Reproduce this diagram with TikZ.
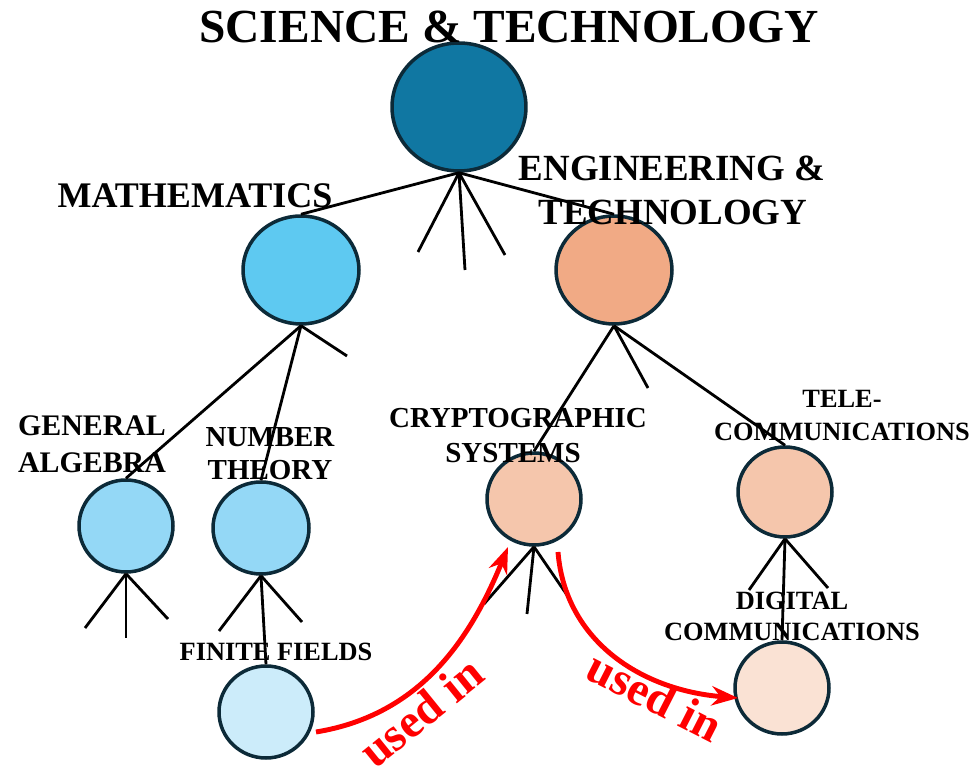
\documentclass[tikz,border=0pt]{standalone}
\usepackage{fontspec}
\setmainfont{Liberation Serif}
\usetikzlibrary{shapes.geometric,arrows.meta}
\definecolor{bord}{RGB}{12,42,56}
\definecolor{cRoot}{RGB}{16,119,162}
\definecolor{cMath}{RGB}{94,201,241}
\definecolor{cEng}{RGB}{241,170,133}
\definecolor{cMath2}{RGB}{148,216,246}
\definecolor{cEng2}{RGB}{245,198,172}
\definecolor{cMath3}{RGB}{204,236,250}
\definecolor{cEng3}{RGB}{250,226,212}
\definecolor{redarr}{RGB}{255,0,0}
\tikzset{
  bub/.style n args={3}{ellipse, draw=bord, line width=2pt, fill=#1, minimum width=#2, minimum height=#3, inner sep=0pt},
  link/.style={line width=1.6pt, black},
  usedarrow/.style={line width=2.8pt, redarr, -{Stealth[length=15pt,width=11pt]}},
  usedlabel/.style={text=redarr, font=\fontsize{27}{27}\selectfont\bfseries, inner sep=0pt},
  lbl/.style={font=\fontsize{#1}{#1}\selectfont\bfseries, inner sep=0pt, align=center},
}
\begin{document}
\begin{tikzpicture}[x=0.02cm,y=-0.02cm]
\useasboundingbox (0,0) rectangle (974,766);
% nodes
\node[bub={cRoot}{2.68cm}{2.56cm}] (root) at (459,107) {};
\node[bub={cMath}{2.32cm}{2.16cm}] (math) at (301,270) {};
\node[bub={cEng}{2.32cm}{2.16cm}] (eng) at (614,270) {};
\node[bub={cMath2}{1.88cm}{1.84cm}] (ga) at (126,526) {};
\node[bub={cMath2}{1.92cm}{1.84cm}] (nt) at (261,528) {};
\node[bub={cEng2}{1.88cm}{1.84cm}] (cs) at (534,499) {};
\node[bub={cEng2}{1.88cm}{1.80cm}] (tc) at (785,492) {};
\node[bub={cMath3}{1.88cm}{1.84cm}] (ff) at (266,712) {};
\node[bub={cEng3}{1.88cm}{1.84cm}] (dc) at (782,688) {};
% stub ends
\coordinate (r1) at (418,252);
\coordinate (r2) at (465,270);
\coordinate (r3) at (505,255);
\coordinate (m1) at (347,356);
\coordinate (e1) at (648,388);
\coordinate (g1) at (85,628);
\coordinate (g2) at (126,638);
\coordinate (g3) at (168,619);
\coordinate (n1) at (219,631);
\coordinate (n2) at (302,622);
\coordinate (c1) at (484,604);
\coordinate (c2) at (527,614);
\coordinate (c3) at (567,595);
\coordinate (t1) at (749,590);
\coordinate (t2) at (828,588);
% links
\draw[link] (root.south) -- (math.north);
\draw[link] (root.south) -- (eng.north);
\draw[link] (root.south) -- (r1);
\draw[link] (root.south) -- (r2);
\draw[link] (root.south) -- (r3);
\draw[link] (math.south) -- (ga.north);
\draw[link] (math.south) -- (nt.north);
\draw[link] (math.south) -- (m1);
\draw[link] (eng.south) -- (cs.north);
\draw[link] (eng.south) -- (tc.north);
\draw[link] (eng.south) -- (e1);
\draw[link] (ga.south) -- (g1);
\draw[link] (ga.south) -- (g2);
\draw[link] (ga.south) -- (g3);
\draw[link] (nt.south) -- (n1);
\draw[link] (nt.south) -- (n2);
\draw[link] (nt.south) -- (ff.north);
\draw[link] (cs.south) -- (c1);
\draw[link] (cs.south) -- (c2);
\draw[link] (cs.south) -- (c3);
\draw[link] (tc.south) -- (t1);
\draw[link] (tc.south) -- (t2);
\draw[link] (tc.south) -- (dc.north);
% labels
\node[lbl=27] (tRoot) at (509,27) {SCIENCE \& TECHNOLOGY};
\node[lbl=20.5] (tMath) at (195,196) {MATHEMATICS};
\node[lbl=21] (tEng1) at (672,168) {ENGINEERING \&};
\node[lbl=21] (tEng2) at (673,212) {TECHNOLOGY};
\node[lbl=17] (tGA1) at (92,426) {GENERAL};
\node[lbl=17] (tGA2) at (92,463) {ALGEBRA};
\node[lbl=16.5] (tNT1) at (270,437) {NUMBER};
\node[lbl=16.5] (tNT2) at (270,470) {THEORY};
\node[lbl=16.5] (tCS1) at (518,418) {CRYPTOGRAPHIC};
\node[lbl=16.5] (tCS2) at (513,453) {SYSTEMS};
\node[lbl=15] (tTC1) at (842,399) {TELE-};
\node[lbl=15] (tTC2) at (842,432) {COMMUNICATIONS};
\node[lbl=15] (tFF) at (276,652) {FINITE FIELDS};
\node[lbl=15] (tDC1) at (792,601) {DIGITAL};
\node[lbl=15] (tDC2) at (792,632) {COMMUNICATIONS};
% used-in arrows
\coordinate (a1s) at (316,732);
\coordinate (a1e) at (508,547);
\coordinate (a2s) at (558,552);
\coordinate (a2e) at (738,698);
\draw[usedarrow] (a1s) .. controls (420,715) and (470,640) .. (a1e);
\draw[usedarrow] (a2s) .. controls (565,640) and (640,690) .. (a2e);
\node[usedlabel, rotate=39] (u1) at (421,712) {used in};
\node[usedlabel, rotate=-27] (u2) at (655,696) {used in};
\end{tikzpicture}
\end{document}
